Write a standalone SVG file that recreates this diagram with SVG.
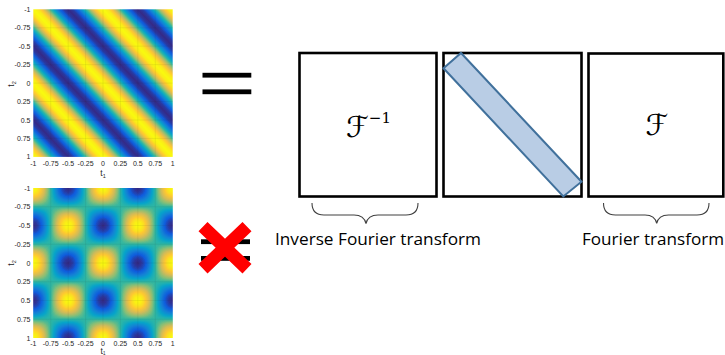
<svg xmlns="http://www.w3.org/2000/svg" width="725" height="355" viewBox="0 0 725 355">
<style>
.tick{font-family:"Liberation Sans",Arial,sans-serif;font-size:7px;fill:#262626}
.ax{font-family:"Liberation Sans",Arial,sans-serif;font-size:8.5px;fill:#262626}
.grid{stroke:#262626;stroke-opacity:0.12;stroke-width:0.6;fill:none}
.box{fill:#fff;stroke:#000;stroke-width:2.6}
.math{font-family:"DejaVu Serif","DejaVu Sans",serif;fill:#000}
.lbl{font-family:"Open Sans","Liberation Sans",sans-serif;font-size:16.5px;fill:#000}
.brace{fill:none;stroke:#404040;stroke-width:1.1}
.bar{fill:#000}
</style>
<defs>
<linearGradient id="wave" spreadMethod="repeat">
<stop offset="0" stop-color="#fff"/>
<stop offset="0.0625" stop-color="#f5f5f5"/>
<stop offset="0.125" stop-color="#dadada"/>
<stop offset="0.1875" stop-color="#b0b0b0"/>
<stop offset="0.25" stop-color="#808080"/>
<stop offset="0.3125" stop-color="#4f4f4f"/>
<stop offset="0.375" stop-color="#252525"/>
<stop offset="0.4375" stop-color="#0a0a0a"/>
<stop offset="0.5" stop-color="#000"/>
<stop offset="0.5625" stop-color="#0a0a0a"/>
<stop offset="0.625" stop-color="#252525"/>
<stop offset="0.6875" stop-color="#4f4f4f"/>
<stop offset="0.75" stop-color="#808080"/>
<stop offset="0.8125" stop-color="#b0b0b0"/>
<stop offset="0.875" stop-color="#dadada"/>
<stop offset="0.9375" stop-color="#f5f5f5"/>
<stop offset="1" stop-color="#fff"/>
</linearGradient>
<linearGradient id="gTop" href="#wave" gradientUnits="userSpaceOnUse" spreadMethod="repeat" x1="33.3" y1="9.3" x2="70.14" y2="-25.49"/>
<linearGradient id="gB1" href="#wave" gradientUnits="userSpaceOnUse" spreadMethod="repeat" x1="33.3" y1="188" x2="70.70" y2="222.76"/>
<linearGradient id="gB2" href="#wave" gradientUnits="userSpaceOnUse" spreadMethod="repeat" x1="33.3" y1="188" x2="70.70" y2="153.24"/>
<filter id="parula" x="0" y="0" width="1" height="1" color-interpolation-filters="sRGB">
<feComponentTransfer>
<feFuncR type="table" tableValues="0.208 0.059 0.078 0.024 0.180 0.529 0.820 0.996 0.976"/>
<feFuncG type="table" tableValues="0.165 0.361 0.506 0.643 0.718 0.749 0.733 0.784 0.984"/>
<feFuncB type="table" tableValues="0.529 0.867 0.839 0.792 0.643 0.467 0.349 0.196 0.055"/>
</feComponentTransfer>
</filter>
</defs>
<rect width="725" height="355" fill="#fff"/>

<g id="plot-top">
<g filter="url(#parula)">
<rect x="33.3" y="9.3" width="139.4" height="147.6" fill="url(#gTop)"/>
</g>
<path class="grid" d="M50.7 9.3V156.9M68.15 9.3V156.9M85.6 9.3V156.9M103 9.3V156.9M120.4 9.3V156.9M137.85 9.3V156.9M155.3 9.3V156.9M33.3 27.75H172.7M33.3 46.2H172.7M33.3 64.65H172.7M33.3 83.1H172.7M33.3 101.55H172.7M33.3 120H172.7M33.3 138.45H172.7"/>
<g class="tick" text-anchor="end">
<text x="30.5" y="11.8">-1</text>
<text x="30.5" y="30.25">-0.75</text>
<text x="30.5" y="48.7">-0.5</text>
<text x="30.5" y="67.15">-0.25</text>
<text x="30.5" y="85.6">0</text>
<text x="30.5" y="104.05">0.25</text>
<text x="30.5" y="122.5">0.5</text>
<text x="30.5" y="140.95">0.75</text>
<text x="30.5" y="159.4">1</text>
</g>
<g class="tick" text-anchor="middle">
<text x="33.3" y="166">-1</text>
<text x="50.7" y="166">-0.75</text>
<text x="68.15" y="166">-0.5</text>
<text x="85.6" y="166">-0.25</text>
<text x="103" y="166">0</text>
<text x="120.4" y="166">0.25</text>
<text x="137.85" y="166">0.5</text>
<text x="155.3" y="166">0.75</text>
<text x="172.7" y="166">1</text>
</g>
<text class="ax" x="103" y="175.5" text-anchor="middle">t<tspan font-size="5.5" dy="2">1</tspan></text>
<text class="ax" transform="translate(13.5 84) rotate(-90)" text-anchor="middle">t<tspan font-size="5.5" dy="2">2</tspan></text>
</g>

<g id="plot-bottom">
<g filter="url(#parula)">
<rect x="33.3" y="188" width="139.4" height="150" fill="url(#gB1)"/>
<rect x="33.3" y="188" width="139.4" height="150" fill="url(#gB2)" opacity="0.5"/>
</g>
<path class="grid" d="M50.7 188V338M68.15 188V338M85.6 188V338M103 188V338M120.4 188V338M137.85 188V338M155.3 188V338M33.3 206.75H172.7M33.3 225.5H172.7M33.3 244.25H172.7M33.3 263H172.7M33.3 281.75H172.7M33.3 300.5H172.7M33.3 319.25H172.7"/>
<g class="tick" text-anchor="end">
<text x="30.5" y="190.5">-1</text>
<text x="30.5" y="209.25">-0.75</text>
<text x="30.5" y="228">-0.5</text>
<text x="30.5" y="246.75">-0.25</text>
<text x="30.5" y="265.5">0</text>
<text x="30.5" y="284.25">0.25</text>
<text x="30.5" y="303">0.5</text>
<text x="30.5" y="321.75">0.75</text>
<text x="30.5" y="340.5">1</text>
</g>
<g class="tick" text-anchor="middle">
<text x="33.3" y="345.5">-1</text>
<text x="50.7" y="345.5">-0.75</text>
<text x="68.15" y="345.5">-0.5</text>
<text x="85.6" y="345.5">-0.25</text>
<text x="103" y="345.5">0</text>
<text x="120.4" y="345.5">0.25</text>
<text x="137.85" y="345.5">0.5</text>
<text x="155.3" y="345.5">0.75</text>
<text x="172.7" y="345.5">1</text>
</g>
<text class="ax" x="103" y="353.6" text-anchor="middle" font-size="7.5">t<tspan font-size="4.5" dy="1">1</tspan></text>
<text class="ax" transform="translate(13.5 263) rotate(-90)" text-anchor="middle">t<tspan font-size="5.5" dy="2">2</tspan></text>
</g>

<g id="equals">
<rect class="bar" x="202.5" y="72.8" width="48.8" height="4.8"/>
<rect class="bar" x="202.5" y="89.4" width="48.8" height="4.8"/>
</g>

<g id="not-equals">
<rect class="bar" x="201" y="239.3" width="49" height="4.8"/>
<rect class="bar" x="201" y="256" width="49" height="4.8"/>
<path d="M203 226.6L247 268.7M247 226.6L203 268.7" stroke="#ff0000" stroke-width="13" fill="none"/>
</g>

<g id="box-inverse">
<rect class="box" x="299.5" y="53" width="137" height="143.5"/>
<text class="math" x="346" y="137" font-size="29">ℱ<tspan font-size="15" dy="-14">−1</tspan></text>
</g>

<g id="box-diagonal">
<rect class="box" x="443.5" y="53" width="138" height="143.5"/>
<polygon points="443.5,68.3 461,53 581.5,181.7 563.3,196.5" fill="#b9cde5" stroke="#41719c" stroke-width="2" stroke-linejoin="miter"/>
</g>

<g id="box-forward">
<rect class="box" x="588.5" y="53.5" width="134.8" height="143"/>
<text class="math" x="657" y="135" font-size="29" text-anchor="middle">ℱ</text>
</g>

<g id="braces">
<path class="brace" d="M312 203Q312 215 324 215L354 215Q364 215 366 223.5Q368 215 378 215L406 215Q418 215 418 203"/>
<path class="brace" d="M603.5 203Q603.5 215 615.5 215L645 215Q655 215 656.7 223.5Q658.5 215 668.5 215L697 215Q709 215 709 203"/>
</g>

<g id="labels">
<text class="lbl" x="275" y="245" textLength="206" lengthAdjust="spacingAndGlyphs">Inverse Fourier transform</text>
<text class="lbl" x="582" y="245" textLength="142" lengthAdjust="spacingAndGlyphs">Fourier transform</text>
</g>
</svg>
